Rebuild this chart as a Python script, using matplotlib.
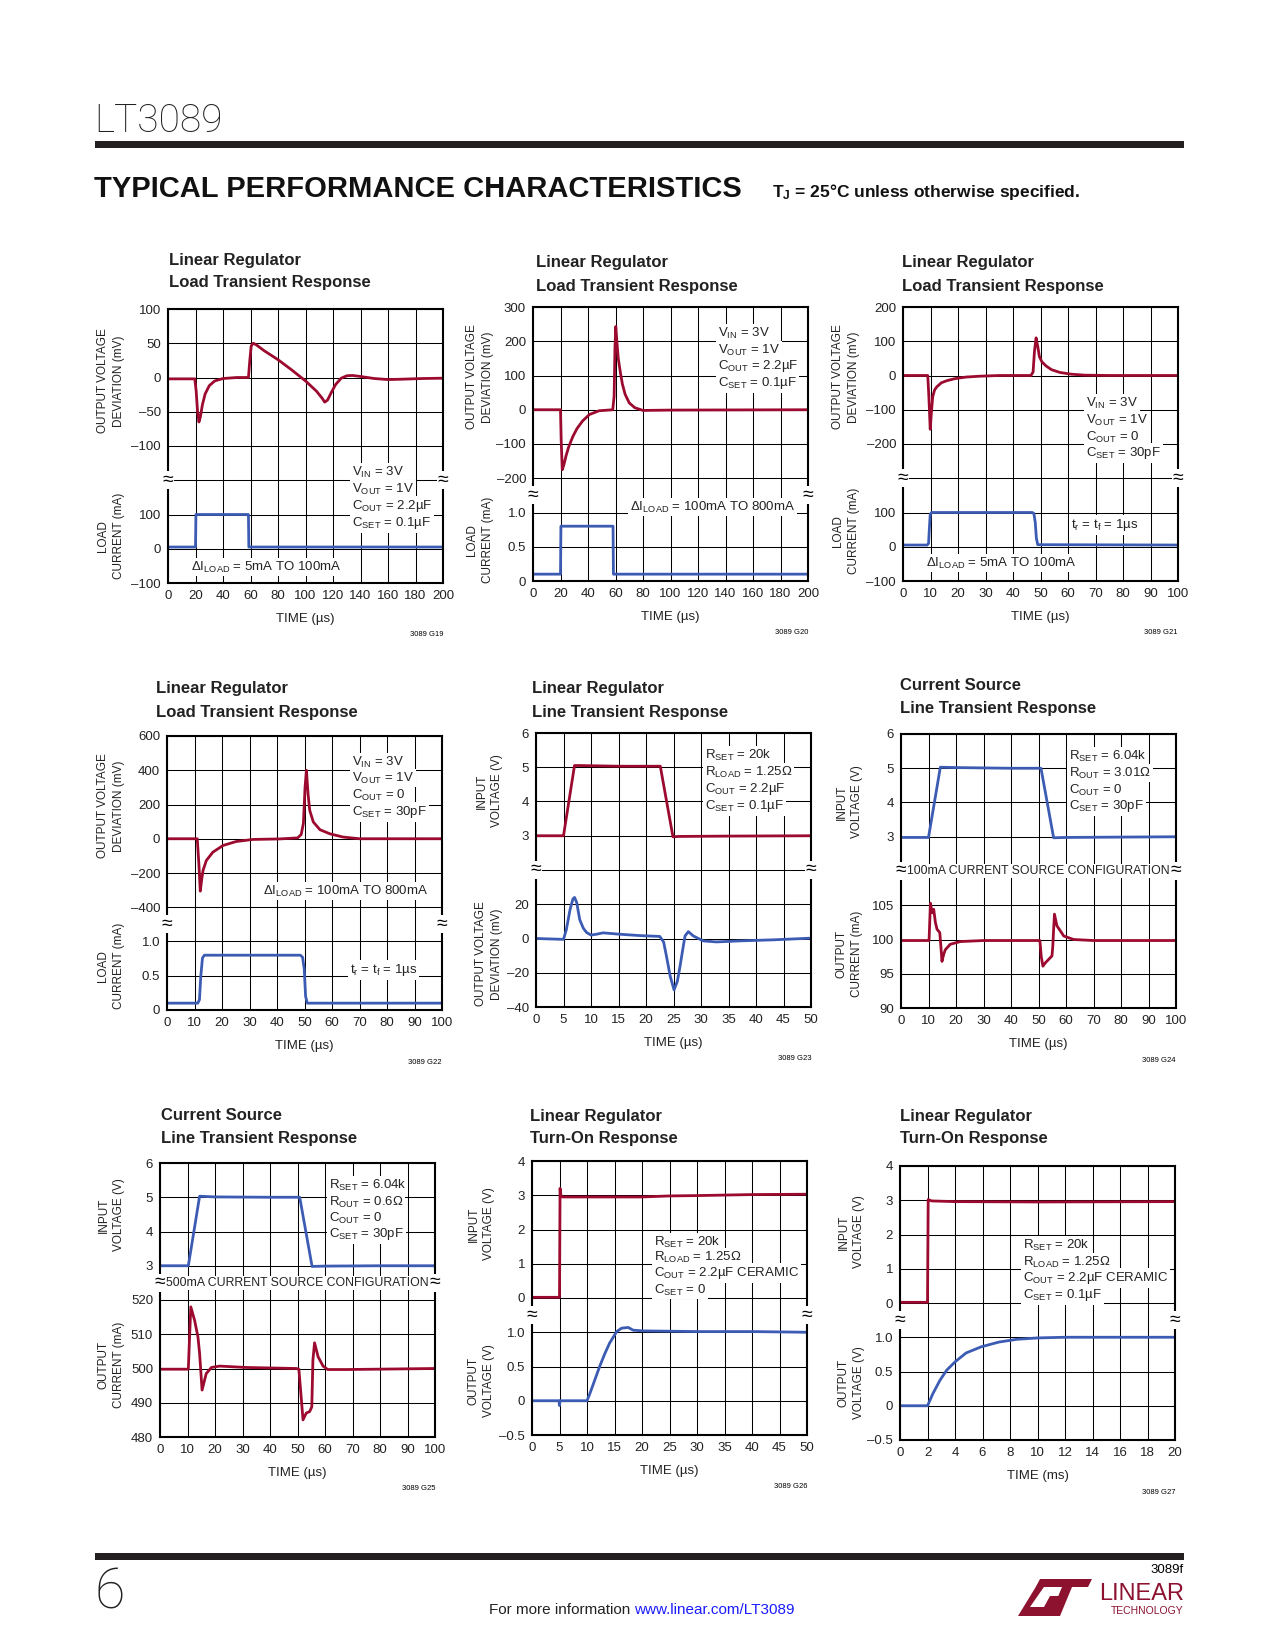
import matplotlib
matplotlib.use('Agg')
import matplotlib.pyplot as plt
from matplotlib import font_manager
from matplotlib.patches import Rectangle, Polygon

# ---- data ----
# G19: load transient, 5mA -> 100mA, COUT 2.2uF
p1_t = [0, 19.5, 20.5, 21.5, 22.5, 23.5, 25, 27, 30, 34, 40, 50, 58.5, 59.5, 60.5, 62, 64,
        70, 80, 90, 100, 108, 112, 114, 116, 119, 122, 126, 130, 134, 140, 150, 160, 170, 185, 200]
p1_v = [-2, -2, -20, -50, -65, -58, -40, -24, -12, -5, -1.5, 0, 0, 25, 46, 50, 48,
        39, 26, 11, -5, -20, -30, -36, -33, -21, -10, -1, 2.5, 3, 1.5, -1.5, -3, -2.5, -1.5, -1]
p1_it = [0, 20, 20.3, 58.5, 58.8, 200]
p1_i = [5, 5, 100, 100, 5, 5]

# G20: load transient, 100mA -> 800mA
p2_t = [0, 20, 20.5, 21.3, 22.5, 24, 26, 29, 32, 36, 41, 48, 58, 59, 59.6, 60.2, 61, 62,
        63.5, 65, 67, 70, 74, 80, 100, 200]
p2_v = [0, 0, -90, -175, -160, -135, -108, -78, -55, -33, -14, -3, 0, 40, 180, 243, 200, 150,
        110, 75, 45, 20, 6, -2, -1, 0]
p2_it = [0, 20, 20.3, 58.2, 58.5, 200]
p2_i = [0.1, 0.1, 0.8, 0.8, 0.1, 0.1]

# G21: load transient, COUT = 0
p3_t = [0, 9, 9.4, 9.9, 10.3, 10.8, 11.5, 12.3, 14, 16, 19, 23, 28, 35, 46.5, 47.3, 47.8,
        48.4, 49, 49.6, 50.5, 52, 54, 57, 61, 66, 75, 100]
p3_v = [0, 0, -60, -157, -110, -62, -42, -33, -21, -15, -9, -4.5, -2, 0, 0, 10, 70,
        110, 85, 55, 40, 28, 17, 9, 4, 1, 0, 0]
p3_it = [0, 8.8, 9.3, 9.6, 9.9, 10.4, 47, 47.6, 48.1, 48.5, 49, 100]
p3_i = [5, 5, 10, 55, 95, 100, 100, 97, 70, 25, 6, 5]

# G22: load transient, COUT = 0, 100mA -> 800mA
p4_t = [0, 11, 11.6, 12.1, 12.6, 13.1, 14.3, 16.7, 20.4, 25.2, 31.3, 41, 47.5, 48.8, 49.6,
        50.2, 50.7, 51.3, 51.9, 53.2, 55.6, 59.2, 64, 70, 100]
p4_v = [0, 0, -150, -306, -240, -185, -127, -78, -39, -16, -4, -1, 5, 25, 90,
        300, 400, 260, 166, 98, 53, 29, 10, 0, 0]
p4_it = [0, 11.2, 11.8, 12.3, 12.9, 13.6, 48.5, 49.3, 49.9, 50.4, 51, 100]
p4_i = [0.1, 0.1, 0.15, 0.5, 0.76, 0.8, 0.8, 0.77, 0.6, 0.2, 0.1, 0.1]

# G23: line transient, linear regulator
p5_t = [0, 5, 7, 8, 15, 22.6, 24.9, 26, 35, 50]
p5_vin = [3, 3, 5.05, 5.05, 5.03, 5.03, 2.97, 2.98, 2.99, 3.0]
p5_ot = [0, 5, 5.5, 6.2, 6.7, 7.0, 7.4, 7.95, 8.6, 9.2, 10, 11, 12.2, 15.2, 18.9, 22.5, 23.2,
         23.7, 24.4, 25.1, 25.7, 26.2, 26.7, 27.1, 27.7, 28.6, 30.4, 32.8, 37, 43, 50]
p5_out = [0, -0.5, 5, 17, 23, 24, 21, 11, 6, 3.5, 2, 2.5, 3.3, 2.5, 1.7, 1.2, -2,
          -10, -22, -30, -25, -16, -6, 1.5, 4, 1.5, -1.4, -2, -1.4, -0.8, 0.2]

# G24: current source line transient, 100mA
p6_t = [0, 10, 14.3, 20, 40, 50.9, 55.5, 60, 80, 100]
p6_vin = [2.98, 2.98, 5.03, 5.02, 5.0, 5.0, 2.97, 2.98, 2.99, 3.0]
p6_it = [0, 10.2, 10.7, 11.3, 11.9, 12.5, 13.1, 14.1, 14.5, 14.9, 15.5, 16.1, 17.9, 21.6, 30,
         50.5, 51.0, 51.6, 52.5, 54.9, 55.2, 55.5, 55.8, 56.7, 59.2, 62.8, 70, 100]
p6_i = [99.85, 99.85, 105.3, 103.9, 104.4, 102.5, 101.5, 101, 99, 96.8, 97.8, 98.5, 99.3, 99.7, 99.85,
        99.85, 97.5, 96.1, 96.6, 97.6, 99, 101.5, 103.7, 102, 100.5, 100, 99.85, 99.85]

# G25: current source line transient, 500mA
p7_t = [0, 10.3, 14.4, 20, 40, 50.8, 55.3, 60, 80, 100]
p7_vin = [3, 3, 5.03, 5.01, 5.0, 5.0, 2.98, 2.99, 3.0, 3.0]
p7_it = [0, 10.3, 10.8, 11.2, 12.6, 13.8, 14.4, 15.3, 16.8, 18.7, 21.7, 31.4, 49.6, 50.5, 51.3,
         52, 53.2, 54.4, 55.2, 55.6, 56.2, 57.5, 59.3, 61, 67.8, 100]
p7_i = [499.8, 499.8, 510, 518, 514, 509.2, 504.4, 493.7, 498.5, 500.3, 500.7, 500.3, 500, 499.8, 492,
        485, 487, 487.4, 488.8, 502.4, 507.5, 503.4, 500.7, 499.7, 499.7, 500]

# G26: turn-on, CSET = 0
p8_t = [0, 5, 5.1, 5.3, 5.6, 10, 20, 25, 30, 40, 50]
p8_vin = [0.02, 0.02, 3.2, 2.96, 2.95, 2.95, 2.95, 2.98, 2.99, 3.02, 3.03]
p8_ot = [0, 4.9, 5.0, 5.1, 10, 10.5, 11.4, 12.3, 13.2, 14.1, 15.4, 16.3, 17.5, 18.4, 20.2, 30, 40, 50]
p8_out = [0, 0, -0.07, 0, 0, 0.1, 0.3, 0.5, 0.68, 0.84, 1.01, 1.06, 1.07, 1.03, 1.02, 1.01, 1.01, 1.0]

# G27: turn-on, CSET = 0.1uF (time in ms)
p9_t = [0, 2, 2.05, 2.3, 4, 10, 20]
p9_vin = [0.02, 0.02, 3.02, 2.98, 2.96, 2.95, 2.96]
p9_ot = [0, 2, 2.4, 2.9, 3.4, 4, 4.8, 5.9, 7.2, 8.5, 10, 12, 14, 16, 18, 20]
p9_out = [0, 0, 0.18, 0.37, 0.52, 0.64, 0.77, 0.86, 0.93, 0.97, 0.99, 1.0, 1.0, 1.0, 1.0, 1.0]

# ---- page setup ----
W, H = 1275, 1650
RED = '#9c0b2f'
BLUE = '#3c5cb4'
ROW = 34.25
PW = 275

names = {f.name for f in font_manager.fontManager.ttflist}
NARROW = next((n for n in ['Liberation Sans Narrow', 'DejaVu Sans Condensed', 'Liberation Sans']
               if n in names), 'DejaVu Sans')
LIGHT = next((n for n in ['Roboto', 'Lato', 'Open Sans'] if n in names), 'DejaVu Sans')
plt.rcParams['font.family'] = [NARROW, 'DejaVu Sans']
plt.rcParams['mathtext.default'] = 'regular'

TICK = 9.5
NOTE = 9.5

fig = plt.figure(figsize=(W / 100, H / 100), dpi=100)


def ftext(x, y, s, **kw):
    # place text in page pixel coordinates
    return fig.text(x / W, 1 - y / H, s, **kw)


def panel(left, top, ntop, nbot, xlim, xticks, tlim, tticks, tlabels, blim, bticks, blabels):
    axt = fig.add_axes([left / W, 1 - (top + ntop * ROW) / H, PW / W, ntop * ROW / H])
    axb = fig.add_axes([left / W, 1 - (top + (ntop + nbot) * ROW) / H, PW / W, nbot * ROW / H])
    for ax, lim, ticks, labels in ((axt, tlim, tticks, tlabels), (axb, blim, bticks, blabels)):
        ax.set_xlim(xlim)
        ax.set_ylim(lim)
        ax.set_xticks(xticks)
        ax.set_yticks(ticks)
        ax.set_yticklabels(labels)
        ax.tick_params(length=0, pad=5, labelsize=TICK, labelcolor='#222222')
        ax.grid(True, color='black', lw=0.75)
        ax.set_axisbelow(True)
        for s in ax.spines.values():
            s.set_linewidth(1.5)
    axt.spines['bottom'].set_visible(False)
    axb.spines['top'].set_visible(False)
    axt.set_xticklabels([])
    axb.set_xticklabels([str(t) for t in xticks])
    by = top + ntop * ROW
    for x in (left, left + PW):
        ftext(x, by, '≈', fontsize=14, ha='center', va='center',
              bbox=dict(facecolor='white', edgecolor='none', pad=0.3))
    return axt, axb


def title(x, y, l1, l2):
    ftext(x, y, l1, fontsize=12, fontweight='bold', va='center', color='#222222')
    ftext(x, y + 23, l2, fontsize=12, fontweight='bold', va='center', color='#222222')


def ylab(x, y, s):
    ftext(x, y, s, rotation=90, ha='center', va='center', multialignment='center',
          fontsize=8.5, linespacing=1.35, color='#222222')


def note(x, ys, lines):
    for y, s in zip(ys, lines):
        ftext(x, y, s, fontsize=NOTE, va='center', ha='left', color='#222222',
              bbox=dict(facecolor='white', edgecolor='none', pad=1.2))


def xlab(ax, s):
    ax.set_xlabel(s, fontsize=9.5, labelpad=8, color='#222222')


def code(left, top, nrows, s):
    ftext(left + PW, top + nrows * ROW + 52, s, fontsize=5.5, ha='right', va='center')


def config(left, y, s):
    ftext(left + PW / 2, y, s, fontsize=8.8, ha='center', va='center', color='#222222',
          bbox=dict(facecolor='white', edgecolor='none', pad=0.8))


LW = 2.0
LOADI = 'LOAD\nCURRENT (mA)'
VIN = 'INPUT\nVOLTAGE (V)'
OUTI = 'OUTPUT\nCURRENT (mA)'
VOUT = 'OUTPUT\nVOLTAGE (V)'
OVD = 'OUTPUT VOLTAGE\nDEVIATION (mV)'

x200 = list(range(0, 201, 20))
x100 = list(range(0, 101, 10))
x50 = list(range(0, 51, 5))
x20 = list(range(0, 21, 2))

# ---- G19 ----
a, b = panel(168, 309, 5, 3, (0, 200), x200,
             (-150, 100), [-150, -100, -50, 0, 50, 100], ['', '–100', '–50', '0', '50', '100'],
             (-100, 200), [-100, 0, 100, 200], ['–100', '0', '100', ''])
a.plot(p1_t, p1_v, color=RED, lw=LW)
b.plot(p1_it, p1_i, color=BLUE, lw=LW)
xlab(b, 'TIME (µs)')
title(169, 260, 'Linear Regulator', 'Load Transient Response')
ylab(111, 381, OVD)
ylab(111, 536, LOADI)
note(352, [472, 489, 506, 523], ['V$_{IN}$ = 3V', 'V$_{OUT}$ = 1V', 'C$_{OUT}$ = 2.2µF', 'C$_{SET}$ = 0.1µF'])
note(191, [567], ['ΔI$_{LOAD}$ = 5mA TO 100mA'])
code(168, 309, 8, '3089 G19')

# ---- G20 ----
a, b = panel(533, 307, 5.5, 2.5, (0, 200), x200,
             (-250, 300), [-200, -100, 0, 100, 200, 300], ['–200', '–100', '0', '100', '200', '300'],
             (0, 1.25), [0, 0.5, 1.0], ['0', '0.5', '1.0'])
a.plot(p2_t, p2_v, color=RED, lw=LW)
b.plot(p2_it, p2_i, color=BLUE, lw=LW)
xlab(b, 'TIME (µs)')
title(536, 263, 'Linear Regulator', 'Load Transient Response')
ylab(480, 377, OVD)
ylab(480, 540, LOADI)
note(718, [333, 350, 366, 383], ['V$_{IN}$ = 3V', 'V$_{OUT}$ = 1V', 'C$_{OUT}$ = 2.2µF', 'C$_{SET}$ = 0.1µF'])
note(630, [507], ['ΔI$_{LOAD}$ = 100mA TO 800mA'])
code(533, 307, 8, '3089 G20')

# ---- G21 ----
a, b = panel(903, 307, 5, 3, (0, 100), x100,
             (-300, 200), [-300, -200, -100, 0, 100, 200], ['', '–200', '–100', '0', '100', '200'],
             (-100, 200), [-100, 0, 100, 200], ['–100', '0', '100', ''])
a.plot(p3_t, p3_v, color=RED, lw=LW)
b.plot(p3_it, p3_i, color=BLUE, lw=LW)
xlab(b, 'TIME (µs)')
title(902, 263, 'Linear Regulator', 'Load Transient Response')
ylab(846, 377, OVD)
ylab(846, 531, LOADI)
note(1086, [403, 420, 437, 453], ['V$_{IN}$ = 3V', 'V$_{OUT}$ = 1V', 'C$_{OUT}$ = 0', 'C$_{SET}$ = 30pF'])
note(1071, [525], ['t$_r$ = t$_f$ = 1µs'])
note(926, [563], ['ΔI$_{LOAD}$ = 5mA TO 100mA'])
code(903, 307, 8, '3089 G21')

# ---- G22 ----
a, b = panel(167, 736, 5.5, 2.5, (0, 100), x100,
             (-500, 600), [-400, -200, 0, 200, 400, 600], ['–400', '–200', '0', '200', '400', '600'],
             (0, 1.25), [0, 0.5, 1.0], ['0', '0.5', '1.0'])
a.plot(p4_t, p4_v, color=RED, lw=LW)
b.plot(p4_it, p4_i, color=BLUE, lw=LW)
xlab(b, 'TIME (µs)')
title(156, 689, 'Linear Regulator', 'Load Transient Response')
ylab(111, 806, OVD)
ylab(111, 966, LOADI)
note(352, [762, 778, 795, 812], ['V$_{IN}$ = 3V', 'V$_{OUT}$ = 1V', 'C$_{OUT}$ = 0', 'C$_{SET}$ = 30pF'])
note(263, [891], ['ΔI$_{LOAD}$ = 100mA TO 800mA'])
note(350, [970], ['t$_r$ = t$_f$ = 1µs'])
code(167, 736, 8, '3089 G22')

# ---- G23 ----
a, b = panel(536, 733, 4, 4, (0, 50), x50,
             (2, 6), [2, 3, 4, 5, 6], ['', '3', '4', '5', '6'],
             (-40, 40), [-40, -20, 0, 20, 40], ['–40', '–20', '0', '20', ''])
a.plot(p5_t, p5_vin, color=RED, lw=LW)
b.plot(p5_ot, p5_out, color=BLUE, lw=LW)
xlab(b, 'TIME (µs)')
title(532, 689, 'Linear Regulator', 'Line Transient Response')
ylab(489, 791, VIN)
ylab(489, 954, OVD)
note(705, [755, 772, 789, 806], ['R$_{SET}$ = 20k', 'R$_{LOAD}$ = 1.25Ω', 'C$_{OUT}$ = 2.2µF', 'C$_{SET}$ = 0.1µF'])
code(536, 733, 8, '3089 G23')

# ---- G24 ----
a, b = panel(901, 734, 4, 4, (0, 100), x100,
             (2, 6), [2, 3, 4, 5, 6], ['', '3', '4', '5', '6'],
             (90, 110), [90, 95, 100, 105, 110], ['90', '95', '100', '105', ''])
a.plot(p6_t, p6_vin, color=BLUE, lw=LW)
b.plot(p6_it, p6_i, color=RED, lw=LW)
xlab(b, 'TIME (µs)')
title(900, 686, 'Current Source', 'Line Transient Response')
ylab(849, 802, VIN)
ylab(849, 954, OUTI)
note(1069, [756, 773, 790, 806], ['R$_{SET}$ = 6.04k', 'R$_{OUT}$ = 3.01Ω', 'C$_{OUT}$ = 0', 'C$_{SET}$ = 30pF'])
config(901, 734 + 4 * ROW, '100mA CURRENT SOURCE CONFIGURATION')
code(901, 734, 8, '3089 G24')

# ---- G25 ----
a, b = panel(160, 1163, 3.5, 4.5, (0, 100), x100,
             (2.5, 6), [3, 4, 5, 6], ['3', '4', '5', '6'],
             (480, 525), [480, 490, 500, 510, 520], ['480', '490', '500', '510', '520'])
a.plot(p7_t, p7_vin, color=BLUE, lw=LW)
b.plot(p7_it, p7_i, color=RED, lw=LW)
xlab(b, 'TIME (µs)')
title(161, 1116, 'Current Source', 'Line Transient Response')
ylab(111, 1215, VIN)
ylab(111, 1365, OUTI)
note(329, [1185, 1202, 1218, 1234], ['R$_{SET}$ = 6.04k', 'R$_{OUT}$ = 0.6Ω', 'C$_{OUT}$ = 0', 'C$_{SET}$ = 30pF'])
config(160, 1163 + 3.5 * ROW, '500mA CURRENT SOURCE CONFIGURATION')
code(160, 1163, 8, '3089 G25')

# ---- G26 ----
a, b = panel(532, 1161, 4.5, 3.5, (0, 50), x50,
             (-0.5, 4), [0, 1, 2, 3, 4], ['0', '1', '2', '3', '4'],
             (-0.5, 1.25), [-0.5, 0, 0.5, 1.0], ['–0.5', '0', '0.5', '1.0'])
a.plot(p8_t, p8_vin, color=RED, lw=LW)
b.plot(p8_ot, p8_out, color=BLUE, lw=LW)
xlab(b, 'TIME (µs)')
title(530, 1116, 'Linear Regulator', 'Turn-On Response')
ylab(481, 1224, VIN)
ylab(481, 1381, VOUT)
note(654, [1242, 1257, 1273, 1290], ['R$_{SET}$ = 20k', 'R$_{LOAD}$ = 1.25Ω', 'C$_{OUT}$ = 2.2µF CERAMIC', 'C$_{SET}$ = 0'])
code(532, 1161, 8, '3089 G26')

# ---- G27 ----
a, b = panel(900, 1166, 4.5, 3.5, (0, 20), x20,
             (-0.5, 4), [0, 1, 2, 3, 4], ['0', '1', '2', '3', '4'],
             (-0.5, 1.25), [-0.5, 0, 0.5, 1.0], ['–0.5', '0', '0.5', '1.0'])
a.plot(p9_t, p9_vin, color=RED, lw=LW)
b.plot(p9_ot, p9_out, color=BLUE, lw=LW)
xlab(b, 'TIME (ms)')
title(900, 1116, 'Linear Regulator', 'Turn-On Response')
ylab(851, 1232, VIN)
ylab(851, 1383, VOUT)
note(1023, [1245, 1262, 1278, 1295], ['R$_{SET}$ = 20k', 'R$_{LOAD}$ = 1.25Ω', 'C$_{OUT}$ = 2.2µF CERAMIC', 'C$_{SET}$ = 0.1µF'])
code(900, 1166, 8, '3089 G27')

# ---- page header / footer ----
ftext(94, 121, 'LT3089', fontsize=28, family=LIGHT, fontweight='light', va='center', color='#222222')
fig.patches.append(Rectangle((95 / W, 1 - 148 / H), 1089 / W, 7 / H, transform=fig.transFigure,
                             facecolor='#231f20', edgecolor='none'))
ftext(94, 189, 'TYPICAL PERFORMANCE CHARACTERISTICS', fontsize=21, fontweight='heavy',
      va='center', color='#111111')
ftext(772, 192, 'T$_J$ = 25°C unless otherwise specified.', fontsize=12.5, fontweight='bold',
      va='center', color='#111111')

ftext(1184, 1570, '3089f', fontsize=9.5, ha='right', va='center')
fig.patches.append(Rectangle((95 / W, 1 - 1560 / H), 1089 / W, 7 / H, transform=fig.transFigure,
                             facecolor='#231f20', edgecolor='none'))
ftext(95, 1593, '6', fontsize=40, family=LIGHT, fontweight='light', va='center', color='#222222')
ftext(630, 1610, 'For more information', fontsize=11, ha='right', va='center', color='#222222')
ftext(634, 1610, 'www.linear.com/LT3089', fontsize=11, ha='left', va='center', color='#1a1aff')

# logo
LOGO = '#8c1230'
for pts in ([(1018, 1616), (1052, 1616), (1062, 1596), (1050, 1596), (1044, 1607), (1030, 1607),
             (1046, 1584), (1040, 1580)],
            [(1040, 1579), (1092, 1579), (1088, 1587), (1072, 1587), (1060, 1616), (1050, 1616),
             (1062, 1587), (1036, 1587)]):
    fig.patches.append(Polygon([(x / W, 1 - y / H) for x, y in pts], closed=True,
                               transform=fig.transFigure, facecolor=LOGO, edgecolor='none'))
ftext(1184, 1594, 'LINEAR', fontsize=17, ha='right', va='center', color=LOGO)
ftext(1184, 1611, 'TECHNOLOGY', fontsize=7.5, ha='right', va='center', color=LOGO)

fig.savefig('out.png', dpi=100)
